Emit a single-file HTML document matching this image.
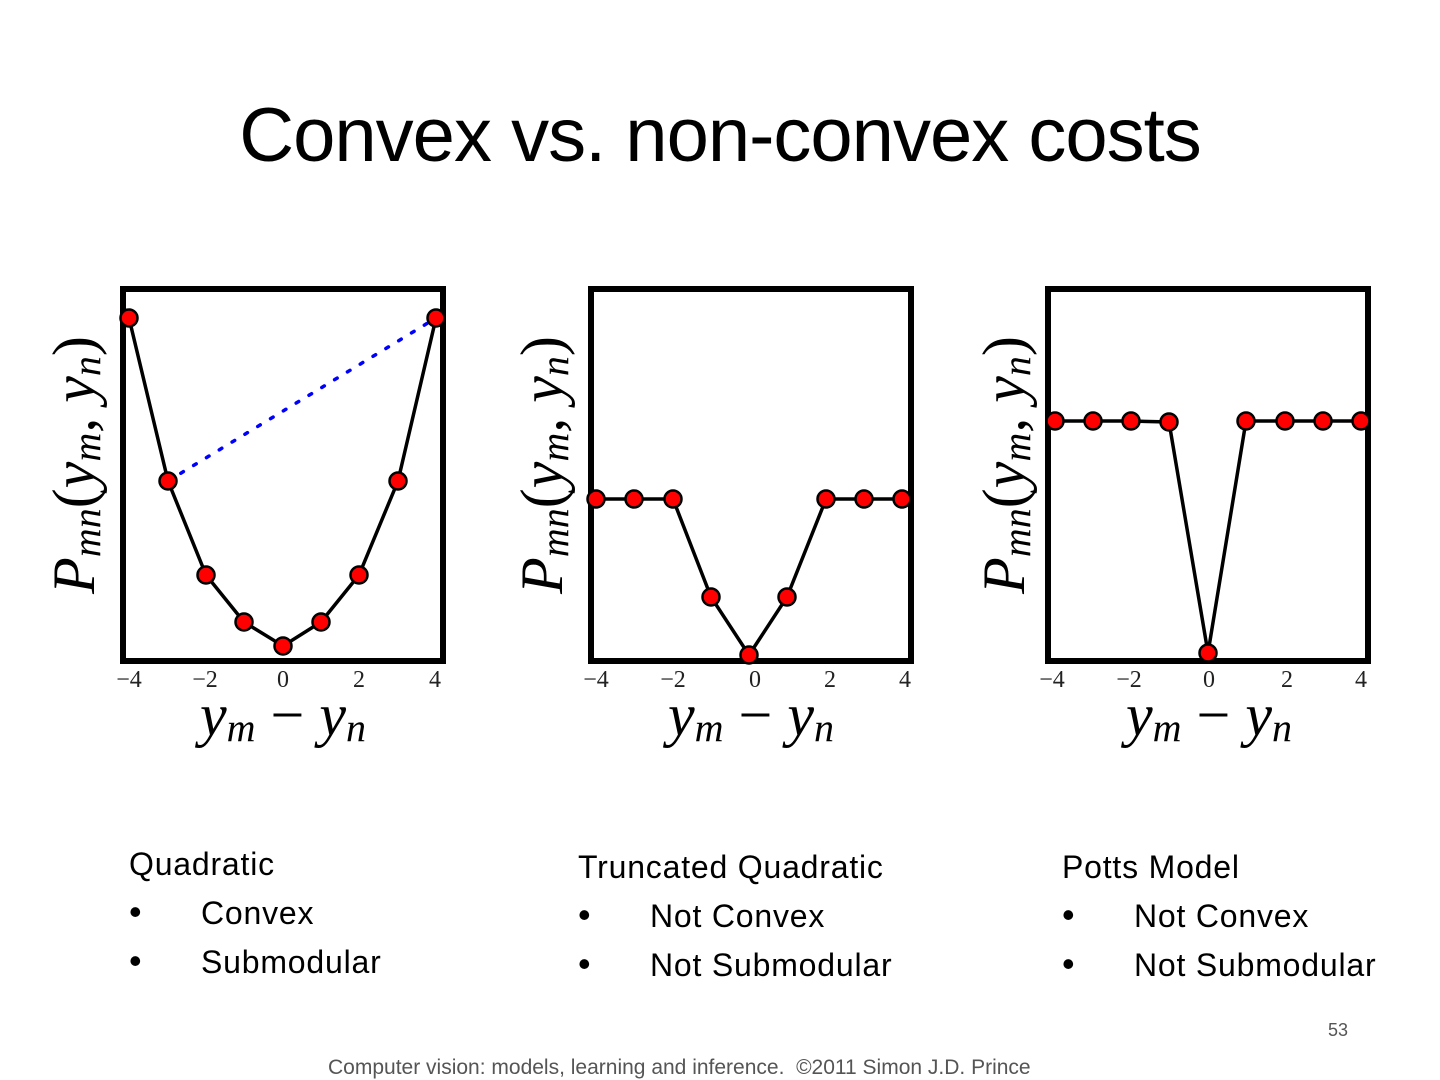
<!DOCTYPE html>
<html><head><meta charset="utf-8"><style>
body{margin:0;width:1440px;height:1080px;background:#fff;overflow:hidden;position:relative;font-family:"Liberation Sans",sans-serif}
.t{position:absolute;left:0;width:1440px;top:92px;text-align:center;font-size:76px;color:#000;letter-spacing:-1px}
.b{position:absolute;font-size:32px;line-height:48px;color:#000;letter-spacing:0.8px}
.b div span{display:inline-block;width:72px;font-size:36px}
</style></head><body>
<div class="t">Convex vs. non-convex costs</div>
<svg width="1440" height="1080" style="position:absolute;left:0;top:0" font-family="Liberation Serif,serif">
<g fill="none" stroke="#000" stroke-width="6">
<rect x="123" y="289" width="320" height="372"/>
<rect x="591" y="289" width="320" height="372"/>
<rect x="1048" y="289" width="320" height="372"/>
</g>
<line x1="168" y1="481" x2="436" y2="318" stroke="#00f" stroke-width="3.5" stroke-dasharray="3,12" stroke-linecap="round"/>
<g fill="none" stroke="#000" stroke-width="3.5">
<polyline points="129,318 168,481 206,575 244,622 283,646 321,622 359,575 398,481 436,318"/>
<polyline points="596,499 634,499 673,499 711,597 749,655 787,597 826,499 864,499 902,499"/>
<polyline points="1055,421 1093,421 1131,421 1169,422 1208,653 1246,421 1285,421 1323,421 1361,421"/>
</g>
<g fill="#f00" stroke="#000" stroke-width="2.5">
<circle cx="129" cy="318" r="8.5"/><circle cx="168" cy="481" r="8.5"/><circle cx="206" cy="575" r="8.5"/><circle cx="244" cy="622" r="8.5"/><circle cx="283" cy="646" r="8.5"/><circle cx="321" cy="622" r="8.5"/><circle cx="359" cy="575" r="8.5"/><circle cx="398" cy="481" r="8.5"/><circle cx="436" cy="318" r="8.5"/>
<circle cx="596" cy="499" r="8.5"/><circle cx="634" cy="499" r="8.5"/><circle cx="673" cy="499" r="8.5"/><circle cx="711" cy="597" r="8.5"/><circle cx="749" cy="655" r="8.5"/><circle cx="787" cy="597" r="8.5"/><circle cx="826" cy="499" r="8.5"/><circle cx="864" cy="499" r="8.5"/><circle cx="902" cy="499" r="8.5"/>
<circle cx="1055" cy="421" r="8.5"/><circle cx="1093" cy="421" r="8.5"/><circle cx="1131" cy="421" r="8.5"/><circle cx="1169" cy="422" r="8.5"/><circle cx="1208" cy="653" r="8.5"/><circle cx="1246" cy="421" r="8.5"/><circle cx="1285" cy="421" r="8.5"/><circle cx="1323" cy="421" r="8.5"/><circle cx="1361" cy="421" r="8.5"/>
</g>
<g font-size="24" text-anchor="middle" fill="#222">
<text x="129" y="687">−4</text><text x="205" y="687">−2</text><text x="283" y="687">0</text><text x="359" y="687">2</text><text x="435" y="687">4</text>
<text x="596" y="687">−4</text><text x="673" y="687">−2</text><text x="755" y="687">0</text><text x="830" y="687">2</text><text x="905" y="687">4</text>
<text x="1052" y="687">−4</text><text x="1129" y="687">−2</text><text x="1209" y="687">0</text><text x="1287" y="687">2</text><text x="1361" y="687">4</text>
</g>
<g font-size="60" font-style="italic" text-anchor="middle">
<text x="283" y="735">y<tspan font-size="40" dy="6">m</tspan><tspan dy="-6" font-style="normal"> − </tspan>y<tspan font-size="40" dy="6">n</tspan></text>
<text x="751" y="735">y<tspan font-size="40" dy="6">m</tspan><tspan dy="-6" font-style="normal"> − </tspan>y<tspan font-size="40" dy="6">n</tspan></text>
<text x="1209" y="735">y<tspan font-size="40" dy="6">m</tspan><tspan dy="-6" font-style="normal"> − </tspan>y<tspan font-size="40" dy="6">n</tspan></text>
</g>
<g font-size="60" font-style="italic" text-anchor="middle">
<text transform="translate(94,465) rotate(-90)">P<tspan font-size="40" dy="6">mn</tspan><tspan dy="-6" font-style="normal">(</tspan>y<tspan font-size="40" dy="6">m</tspan><tspan dy="-6">, </tspan>y<tspan font-size="40" dy="6">n</tspan><tspan dy="-6" font-style="normal">)</tspan></text>
<text transform="translate(562,465) rotate(-90)">P<tspan font-size="40" dy="6">mn</tspan><tspan dy="-6" font-style="normal">(</tspan>y<tspan font-size="40" dy="6">m</tspan><tspan dy="-6">, </tspan>y<tspan font-size="40" dy="6">n</tspan><tspan dy="-6" font-style="normal">)</tspan></text>
<text transform="translate(1024,465) rotate(-90)">P<tspan font-size="40" dy="6">mn</tspan><tspan dy="-6" font-style="normal">(</tspan>y<tspan font-size="40" dy="6">m</tspan><tspan dy="-6">, </tspan>y<tspan font-size="40" dy="6">n</tspan><tspan dy="-6" font-style="normal">)</tspan></text>
</g>
</svg>
<div class="b" style="left:129px;top:840px">Quadratic<div><span>•</span>Convex</div><div><span>•</span>Submodular</div></div>
<div class="b" style="left:578px;top:843px">Truncated Quadratic<div><span>•</span>Not Convex</div><div><span>•</span>Not Submodular</div></div>
<div class="b" style="left:1062px;top:843px">Potts Model<div><span>•</span>Not Convex</div><div><span>•</span>Not Submodular</div></div>
<div style="position:absolute;left:1328px;top:1020px;font-size:18px;color:#555">53</div>
<div style="position:absolute;left:328px;top:1056px;font-size:21px;color:#555">Computer vision: models, learning and inference.&nbsp; ©2011 Simon J.D. Prince</div>
</body></html>
